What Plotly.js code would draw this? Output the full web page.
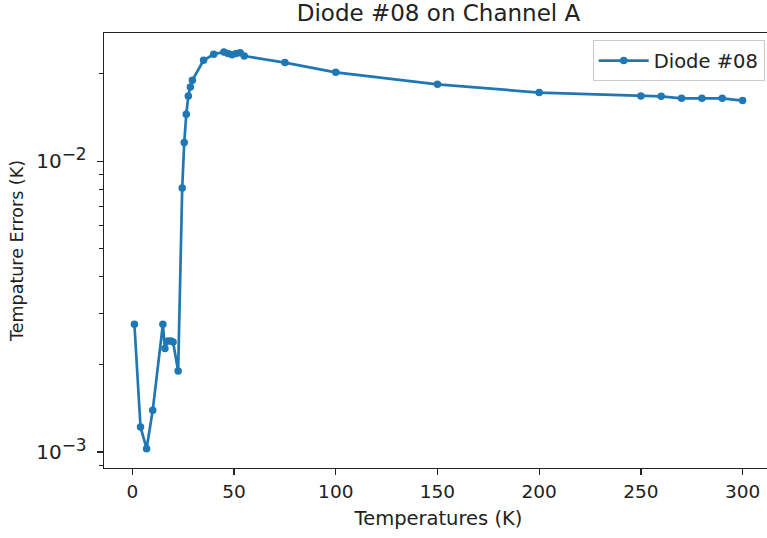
<!DOCTYPE html>
<html>
<head>
<meta charset="utf-8">
<script src="https://cdn.plot.ly/plotly-3.0.1.min.js"></script>
<style>
html, body { margin: 0; padding: 0; overflow: hidden; background: #fff; }
#chart { width: 780px; height: 538px; }
</style>
</head>
<body>
<div id="chart"></div>
<script>
const temperatures = [1, 4, 7, 10, 15, 16, 17.5, 19, 20, 22.5, 24.5, 25.5, 26.5, 27.5, 28.5, 29.5, 35, 40, 45, 47, 49, 51, 53, 55, 75, 100, 150, 200, 250, 260, 270, 280, 290, 300];
const errors = [0.00275, 0.001219, 0.001027, 0.001391, 0.00275, 0.002268, 0.002409, 0.00241, 0.00239, 0.0019, 0.00809, 0.01159, 0.0145, 0.01676, 0.01799, 0.01898, 0.02224, 0.02333, 0.02375, 0.02346, 0.02326, 0.02346, 0.02363, 0.0230, 0.02184, 0.02022, 0.01839, 0.01722, 0.01676, 0.01672, 0.01646, 0.01646, 0.01646, 0.01616];
const seriesName = "Diode #08";
const chartTitle = "Diode #08 on Channel A";
const xTitle = "Temperatures (K)";
const yTitle = "Tempature Errors (K)";
const xTickVals = [0, 50, 100, 150, 200, 250, 300];
const yTickVals = [0.001, 0.01];
const yTickText = ["10<sup><span style='font-size:17px'>−3</span></sup>", "10<sup><span style='font-size:17px'>−2</span></sup>"];
const yMinorVals = [0.0009, 0.002, 0.003, 0.004, 0.005, 0.006, 0.007, 0.008, 0.009, 0.02];

const font = "DejaVu Sans, sans-serif";
const trace = {
  x: temperatures, y: errors, name: seriesName,
  type: "scatter", mode: "lines+markers",
  line: { color: "#1f77b4", width: 2.7 },
  marker: { color: "#1f77b4", size: 7.5 }
};
const layout = {
  width: 780, height: 538,
  margin: { l: 104.3, r: 6.7, t: 32.7, b: 70.3 },
  paper_bgcolor: "#fff", plot_bgcolor: "#fff",
  font: { family: font, size: 18, color: "#222" },
  showlegend: true,
  title: { text: chartTitle, x: 0.5, xref: "paper", y: 1 - 13/538, yref: "container", yanchor: "middle", font: { family: font, size: 23, color: "#222" } },
  xaxis: {
    range: [-13.95, 314.95], tickmode: "array", tickvals: xTickVals,
    showgrid: false, zeroline: false, showline: true, mirror: true, linecolor: "#222", linewidth: 1.3,
    ticks: "outside", ticklen: 6, tickwidth: 1.3, tickcolor: "#222",
    tickfont: { size: 18.5 },
    title: { text: xTitle, font: { size: 19.5 }, standoff: 10 }
  },
  yaxis: {
    type: "log", range: [-3.055, -1.559], tickmode: "array", tickvals: yTickVals, ticktext: yTickText,
    showgrid: false, zeroline: false, showline: true, mirror: true, linecolor: "#222", linewidth: 1.3,
    ticks: "outside", ticklen: 6, tickwidth: 1.3, tickcolor: "#222",
    tickfont: { size: 20 }, ticklabelstandoff: 6,
    minor: { tickmode: "array", tickvals: yMinorVals, ticks: "outside", ticklen: 3.5, tickwidth: 1, tickcolor: "#222", showgrid: false },
    title: { text: yTitle, font: { size: 17.5 }, standoff: 8 }
  },
  legend: {
    x: 0.9876, xanchor: "right", y: 0.983, yanchor: "top",
    bgcolor: "rgba(255,255,255,0.8)", bordercolor: "#cccccc", borderwidth: 1,
    itemwidth: 50,
    font: { size: 19.5 }
  }
};
Plotly.newPlot("chart", [trace], layout, { displayModeBar: false, staticPlot: true });
</script>
</body>
</html>
